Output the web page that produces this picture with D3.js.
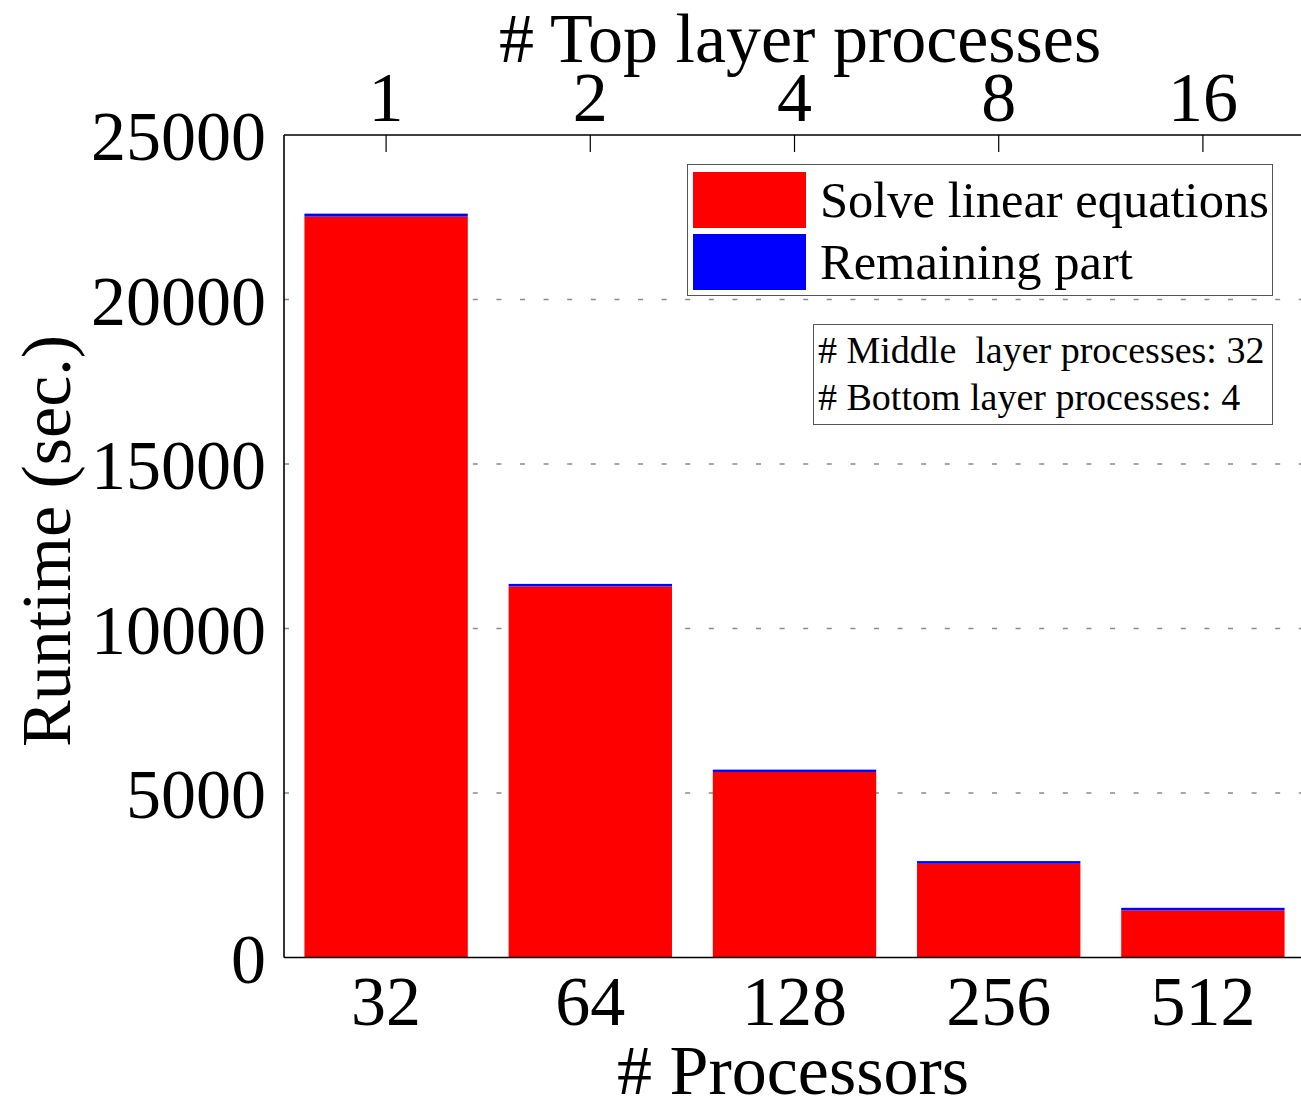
<!DOCTYPE html>
<html>
<head>
<meta charset="utf-8">
<script src="https://cdn.jsdelivr.net/npm/d3@7"></script>
<style>
  html, body { margin: 0; padding: 0; background: #fff; }
  svg { display: block; font-family: "Liberation Serif", "Times New Roman", serif; }
  text { white-space: pre; }
</style>
</head>
<body>
<svg id="chart" width="1301" height="1101"></svg>
<script>
// Processor counts (bottom axis) and top-layer process counts (top axis)
const processors = ["32", "64", "128", "256", "512"];
const topLayer = ["1", "2", "4", "8", "16"];

// Runtime split in seconds
const solveLinear = [22520, 11280, 5640, 2850, 1430];
const remaining = [90, 75, 70, 80, 80];

const yTicks = [0, 5000, 10000, 15000, 20000, 25000];
const seriesNames = ["Solve linear equations", "Remaining part"];
const seriesColors = ["#ff0000", "#0000ff"];
const infoLines = ["# Middle  layer processes: 32", "# Bottom layer processes: 4"];

const svg = d3.select("#chart");
const plotLeft = 284, plotRight = 1305, plotTop = 135, plotBottom = 957.5;
const bigFont = 70;

const x = d3.scaleBand().domain(processors).range([plotLeft, plotRight])
  .paddingInner(0.2).paddingOuter(0.1);
const xTop = d3.scaleBand().domain(topLayer).range([plotLeft, plotRight])
  .paddingInner(0.2).paddingOuter(0.1);
const y = d3.scaleLinear().domain([0, 25000]).range([plotBottom, plotTop]);

// dotted grid lines
svg.append("g").selectAll("line")
  .data(yTicks.filter(d => d > 0 && d < 25000))
  .join("line")
  .attr("x1", plotLeft).attr("x2", plotRight)
  .attr("y1", d => y(d)).attr("y2", d => y(d))
  .attr("stroke", "#8a8a8a").attr("stroke-width", 1.3)
  .attr("stroke-dasharray", "5,18.6");

// stacked bars
const stacked = d3.stack().keys([0, 1])(processors.map((p, i) => ({ p, 0: solveLinear[i], 1: remaining[i] })));
svg.append("g").selectAll("g")
  .data(stacked)
  .join("g")
  .attr("fill", (d, i) => seriesColors[i])
  .selectAll("rect")
  .data(d => d)
  .join("rect")
  .attr("x", d => x(d.data.p))
  .attr("width", x.bandwidth())
  .attr("y", d => y(d[1]))
  .attr("height", d => y(d[0]) - y(d[1]));

// axes frame
const axisColor = "#000";
svg.append("line").attr("x1", plotLeft).attr("x2", plotRight).attr("y1", plotTop).attr("y2", plotTop)
  .attr("stroke", axisColor).attr("stroke-width", 1.6);
svg.append("line").attr("x1", plotLeft).attr("x2", plotRight).attr("y1", plotBottom).attr("y2", plotBottom)
  .attr("stroke", axisColor).attr("stroke-width", 1.6);
svg.append("line").attr("x1", plotLeft).attr("x2", plotLeft).attr("y1", plotTop).attr("y2", plotBottom)
  .attr("stroke", axisColor).attr("stroke-width", 1.6);

// left axis labels
const yAxis = d3.axisLeft(y).tickValues(yTicks).tickSize(0).tickPadding(18).tickFormat(d3.format("d"));
const gy = svg.append("g").attr("transform", `translate(${plotLeft},0)`).call(yAxis);
gy.select(".domain").remove();
gy.selectAll("text").attr("font-size", bigFont).attr("font-family", "Liberation Serif").attr("fill", "#000").attr("dy", "0.35em");

// bottom axis labels
const xAxis = d3.axisBottom(x).tickSize(0).tickPadding(18);
const gx = svg.append("g").attr("transform", `translate(0,${plotBottom})`).call(xAxis);
gx.select(".domain").remove();
gx.selectAll("text").attr("font-size", bigFont).attr("font-family", "Liberation Serif").attr("fill", "#000");

// top axis with inward ticks
const xTopAxis = d3.axisTop(xTop).tickSize(-17).tickPadding(14);
const gt = svg.append("g").attr("transform", `translate(0,${plotTop})`).call(xTopAxis);
gt.select(".domain").remove();
gt.selectAll("line").attr("stroke", "#000").attr("stroke-width", 1.2);
gt.selectAll("text").attr("font-size", bigFont).attr("font-family", "Liberation Serif").attr("fill", "#000");

// axis titles
svg.append("text").attr("x", 800).attr("y", 62).attr("text-anchor", "middle")
  .attr("font-size", bigFont).text("# Top layer processes");
svg.append("text").attr("x", 793).attr("y", 1094).attr("text-anchor", "middle")
  .attr("font-size", bigFont).text("# Processors");
svg.append("text").attr("transform", "translate(70,541) rotate(-90)").attr("text-anchor", "middle")
  .attr("font-size", bigFont).text("Runtime (sec.)");

// legend
const lg = svg.append("g");
lg.append("rect").attr("x", 687.5).attr("y", 164.5).attr("width", 585).attr("height", 131)
  .attr("fill", "#fff").attr("stroke", "#555").attr("stroke-width", 1);
seriesNames.forEach((name, i) => {
  lg.append("rect").attr("x", 693).attr("y", 172 + i * 62).attr("width", 113).attr("height", 56)
    .attr("fill", seriesColors[i]);
  lg.append("text").attr("x", 820).attr("y", 217 + i * 62).attr("font-size", 50.5).text(name);
});

// configuration note
const ng = svg.append("g");
ng.append("rect").attr("x", 813.5).attr("y", 324.5).attr("width", 459).attr("height", 100)
  .attr("fill", "#fff").attr("stroke", "#555").attr("stroke-width", 1);
infoLines.forEach((t, i) => {
  ng.append("text").attr("x", 818).attr("y", 363 + i * 47).attr("font-size", 38).text(t);
});
</script>
</body>
</html>
